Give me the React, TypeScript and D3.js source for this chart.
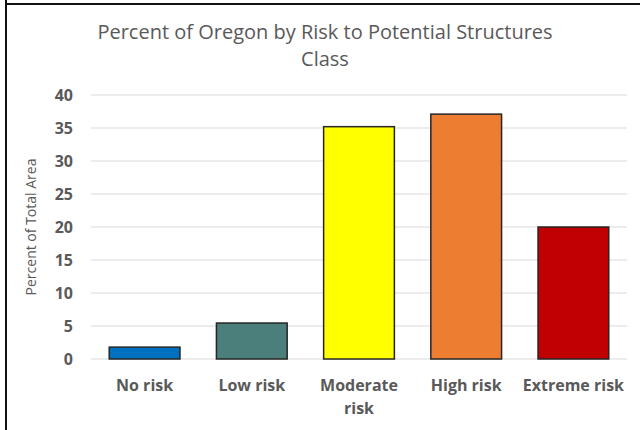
import React from "react";
import * as d3 from "d3";

const categories = ["No risk", "Low risk", "Moderate risk", "High risk", "Extreme risk"];
const values = [1.8, 5.45, 35.2, 37.1, 20.0];
const colors = ["#0070C0", "#4A7F7B", "#FFFF00", "#ED7D31", "#C00000"];
const yTicks = [0, 5, 10, 15, 20, 25, 30, 35, 40];
const titleLines = ["Percent of Oregon by Risk to Potential Structures", "Class"];
const yLabel = "Percent of Total Area";

const W = 640;
const H = 430;
const m = { left: 91, right: 13, top: 95, bottom: 71 };
const FONT = "'Open Sans', Lato, sans-serif";

function wrap(label: string): string[] {
  if (label === "Moderate risk") return ["Moderate", "risk"];
  return [label];
}

export default function App() {
  const x = d3
    .scaleBand<string>()
    .domain(categories)
    .range([m.left, W - m.right])
    .paddingInner(0.34)
    .paddingOuter(0.17);
  const y = d3.scaleLinear().domain([0, 40]).range([H - m.bottom, m.top]);

  return (
    <svg
      width={W}
      height={H}
      style={{ position: "absolute", left: 0, top: 0, background: "#fff" }}
    >
      <rect x={0} y={0} width={W} height={H} fill="#fff" />
      <line x1={6} y1={0} x2={6} y2={H} stroke="#111" strokeWidth={2} />
      <line x1={6} y1={4} x2={W} y2={4} stroke="#111" strokeWidth={2} />
      {titleLines.map((t, i) => (
        <text
          key={t}
          x={325}
          y={39 + i * 27}
          textAnchor="middle"
          fontFamily={FONT}
          fontSize={20}
          fill="#595959"
        >
          {t}
        </text>
      ))}
      {yTicks.map((t) => (
        <g key={t}>
          <line
            x1={m.left}
            x2={W - m.right}
            y1={y(t)}
            y2={y(t)}
            stroke="#D9D9D9"
            strokeWidth={1}
          />
          <text
            x={73}
            y={y(t) + 6}
            textAnchor="end"
            fontFamily={FONT}
            fontWeight="bold"
            fontSize={16}
            fill="#595959"
          >
            {t}
          </text>
        </g>
      ))}
      <text
        transform={`translate(36, ${y(20)}) rotate(-90)`}
        textAnchor="middle"
        fontFamily={FONT}
        fontSize={14}
        fill="#595959"
      >
        {yLabel}
      </text>
      {categories.map((c, i) => (
        <rect
          key={c}
          x={x(c)}
          y={y(values[i])}
          width={x.bandwidth()}
          height={y(0) - y(values[i])}
          fill={colors[i]}
          stroke="#262626"
          strokeWidth={1.5}
        />
      ))}
      {categories.map((c) =>
        wrap(c).map((line, j) => (
          <text
            key={c + j}
            x={(x(c) as number) + x.bandwidth() / 2}
            y={391 + j * 23}
            textAnchor="middle"
            fontFamily={FONT}
            fontWeight="bold"
            fontSize={16}
            fill="#595959"
          >
            {line}
          </text>
        ))
      )}
    </svg>
  );
}
